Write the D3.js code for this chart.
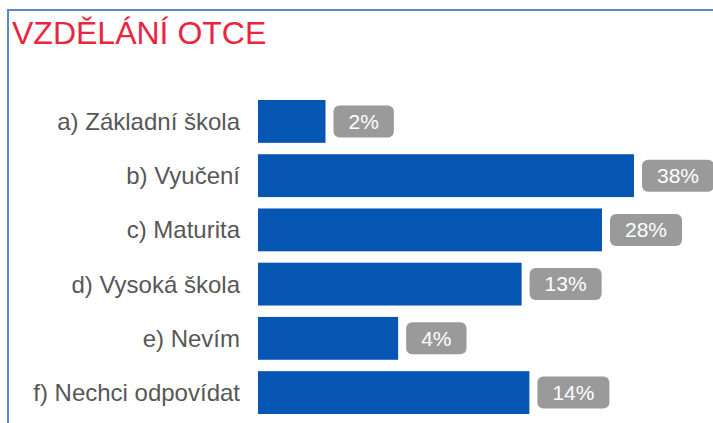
<!DOCTYPE html>
<html>
<head>
<meta charset="utf-8">
<script src="https://cdn.jsdelivr.net/npm/d3@7"></script>
<style>
  body { margin: 0; background: #fff; }
  svg { display: block; font-family: "Liberation Sans", Arial, sans-serif; }
</style>
</head>
<body>
<div id="chart"></div>
<script>
// data
var categories = ["a) Základní škola", "b) Vyučení", "c) Maturita", "d) Vysoká škola", "e) Nevím", "f) Nechci odpovídat"];
var values = [2, 38, 28, 13, 4, 14];
var chartTitle = "VZDĚLÁNÍ OTCE";

var width = 713, height = 423;
var margin = { top: 100, left: 258, bottom: 414 };

var svg = d3.select("#chart").append("svg")
    .attr("width", width)
    .attr("height", height);

// frame (left + top border only visible)
svg.append("path")
    .attr("d", "M8," + height + " V10 H" + width)
    .attr("fill", "none")
    .attr("stroke", "#5b88c9")
    .attr("stroke-width", 2);

// title
svg.append("text")
    .attr("x", 12)
    .attr("y", 44)
    .attr("fill", "#e8263f")
    .attr("font-size", "32px")
    .text(chartTitle);

// scales
var yScale = d3.scaleBand()
    .domain(categories)
    .range([margin.top, margin.bottom])
    .paddingInner(0.21)
    .paddingOuter(0);

var xScale = d3.scaleLog()
    .domain([1.05, 38])
    .range([0, 376]);

var rows = categories.map((c, i) => ({ cat: c, val: values[i] }));

// category labels
svg.append("g")
    .selectAll("text")
    .data(rows)
    .join("text")
    .attr("x", margin.left - 18)
    .attr("y", d => yScale(d.cat) + yScale.bandwidth() / 2)
    .attr("dy", "0.35em")
    .attr("text-anchor", "end")
    .attr("fill", "#575757")
    .attr("font-size", "24px")
    .text(d => d.cat);

// bars
svg.append("g")
    .selectAll("rect")
    .data(rows)
    .join("rect")
    .attr("x", margin.left)
    .attr("y", d => yScale(d.cat))
    .attr("width", d => xScale(d.val))
    .attr("height", yScale.bandwidth())
    .attr("fill", "#0557b3");

// value badges
var badge = svg.append("g")
    .selectAll("g")
    .data(rows)
    .join("g")
    .attr("transform", d => `translate(${margin.left + xScale(d.val) + 8}, ${yScale(d.cat) + yScale.bandwidth() / 2})`);

badge.append("text")
    .attr("dy", "0.35em")
    .attr("fill", "#ffffff")
    .attr("font-size", "21px")
    .text(d => d.val + "%");

badge.each(function () {
    var g = d3.select(this);
    var t = g.select("text");
    var w = t.node().getComputedTextLength();
    var padX = 15;
    t.attr("x", padX);
    g.insert("rect", "text")
        .attr("x", 0)
        .attr("y", -16)
        .attr("width", w + padX * 2)
        .attr("height", 32)
        .attr("rx", 6)
        .attr("fill", "#9a9a9a");
});
</script>
</body>
</html>
